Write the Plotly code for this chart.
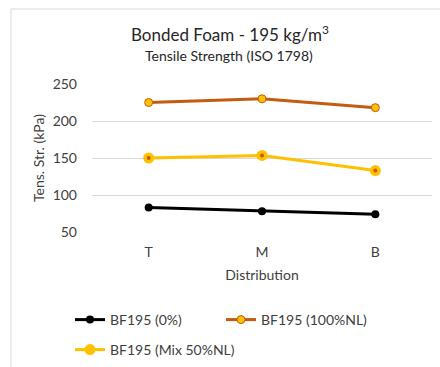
import plotly.graph_objects as go

# Tensile strength by position in the block
positions = ["T", "M", "B"]
bf_0 = [83, 78, 74]
bf_100nl = [225, 230, 218]
bf_mix50 = [150, 153.5, 133]
y_ticks = [50, 100, 150, 200, 250]

W, H = 440, 367
ML, MR, MT, MB = 92, 8, 84, 135
PW, PH = W - ML - MR, H - MT - MB

ORANGE = "#C55A11"
GOLD = "#FFC000"
TXT = "#404040"
FONT = "Lato, Carlito, Calibri, sans-serif"

fig = go.Figure()

fig.add_trace(go.Scatter(
    x=positions, y=bf_0, name="BF195 (0%)", mode="lines+markers",
    legend="legend",
    line=dict(color="black", width=3),
    marker=dict(symbol="circle", size=8, color="black"),
))
fig.add_trace(go.Scatter(
    x=positions, y=bf_100nl, name="BF195 (100%NL)", mode="lines+markers",
    legend="legend",
    line=dict(color=ORANGE, width=3),
    marker=dict(symbol="circle", size=8, color=GOLD, line=dict(color=ORANGE, width=1)),
))
fig.add_trace(go.Scatter(
    x=positions, y=bf_mix50, name="BF195 (Mix 50%NL)", mode="lines+markers",
    legend="legend2", line=dict(color=GOLD, width=3),
    marker=dict(symbol="circle", size=11, color=GOLD),
))
# centre dots on the mixed-batch markers
fig.add_trace(go.Scatter(
    x=positions, y=bf_mix50, mode="markers", showlegend=False,
    marker=dict(symbol="circle", size=4, color=ORANGE), hoverinfo="skip",
))

def px_x(p):
    return (p - ML) / PW

def px_y(p):
    return (H - MB - p) / PH

def cx(p):
    return p / W

def cy(p):
    return 1 - p / H

legend_common = dict(
    orientation="h", xanchor="left", yanchor="middle",
    xref="container", yref="container",
    font=dict(size=14, color=TXT), itemwidth=30,
    bgcolor="rgba(0,0,0,0)", borderwidth=0,
)

fig.update_layout(
    width=W, height=H,
    margin=dict(l=ML, r=MR, t=MT, b=MB),
    paper_bgcolor="white", plot_bgcolor="white",
    font=dict(family=FONT, color=TXT, size=14),
    showlegend=True,
    legend=dict(x=cx(70), y=cy(320), entrywidth=106, **legend_common),
    legend2=dict(x=cx(70), y=cy(350), **legend_common),
    xaxis=dict(
        range=[-0.5, 2.5], showgrid=False, zeroline=False, showline=False,
        ticks="", tickfont=dict(size=14, color=TXT), ticklabelstandoff=10,
        title=dict(text="Distribution", font=dict(size=14, color=TXT), standoff=11),
    ),
    yaxis=dict(
        range=[50, 250], tickvals=y_ticks, showgrid=True, gridcolor="#D9D9D9",
        gridwidth=1, zeroline=False, showline=False, ticks="",
        tickfont=dict(size=14, color=TXT), ticklabelstandoff=14,
        title=dict(text="Tens. Str. (kPa)", font=dict(size=14, color=TXT), standoff=4),
    ),
    annotations=[
        dict(text="Bonded Foam - 195 kg/m<sup>3</sup>", xref="paper", yref="paper",
             x=px_x(230), y=px_y(33), xanchor="center", yanchor="middle",
             showarrow=False, font=dict(size=17, color="#262626")),
        dict(text="Tensile Strength (ISO 1798)", xref="paper", yref="paper",
             x=px_x(229), y=px_y(56), xanchor="center", yanchor="middle",
             showarrow=False, font=dict(size=14, color="#262626")),
    ],
    shapes=[
        dict(type="line", xref="paper", yref="paper", x0=px_x(11), x1=px_x(440),
             y0=px_y(9), y1=px_y(9), line=dict(color="#D9D9D9", width=1)),
        dict(type="line", xref="paper", yref="paper", x0=px_x(11), x1=px_x(11),
             y0=px_y(9), y1=px_y(367), line=dict(color="#D9D9D9", width=1)),
    ],
)

fig.write_html("out.html")
